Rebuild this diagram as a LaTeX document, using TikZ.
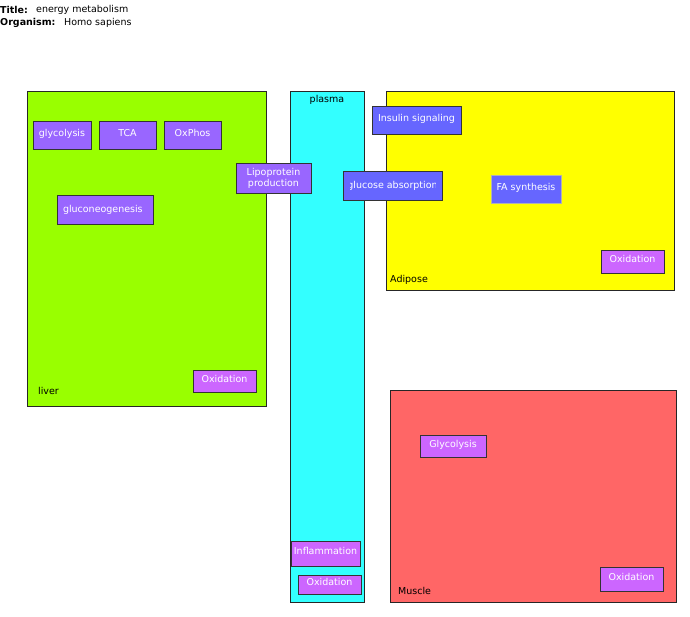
\documentclass[tikz,border=0pt]{standalone}
\usepackage{fontspec}
\setmainfont{DejaVu Sans}
\usepackage{xcolor}
\usetikzlibrary{positioning}
\definecolor{liverfill}{HTML}{99FF00}
\definecolor{plasmafill}{HTML}{33FFFF}
\definecolor{adiposefill}{HTML}{FFFF00}
\definecolor{musclefill}{HTML}{FF6666}
\definecolor{procviolet}{HTML}{9966FF}
\definecolor{procblue}{HTML}{6666FF}
\definecolor{procpink}{HTML}{CC66FF}
\tikzset{
    comp/.style={draw=black!85, line width=0.9pt, anchor=north west, inner sep=0pt, outer sep=0pt},
    proc/.style={draw=black!80, line width=0.9pt, anchor=north west, inner sep=0pt, outer sep=0pt, text=white, align=center, text height=7pt, text depth=5pt},
    cliptext/.style={draw=none, fill=none, text=white, inner sep=0pt, minimum width=0pt, minimum height=0pt, anchor=center, text height=, text depth=},
    lbl/.style={inner sep=0pt, anchor=west}
}

\begin{document}
\begin{tikzpicture}[x=1pt, y=-1pt, font=\fontsize{9.5}{11}\selectfont]
    \useasboundingbox (0,0) rectangle (690,616);
    % header
    \node (tkey) [lbl, font=\fontsize{9.5}{11}\selectfont\bfseries] at (0,10) {Title:};
    \node (tval) [lbl] at (36,10) {energy metabolism};
    \node (okey) [lbl, font=\fontsize{9.5}{11}\selectfont\bfseries] at (0,23) {Organism:};
    \node (oval) [lbl] at (64,23) {Homo sapiens};
    % compartments
    \node (liver) [comp, fill=liverfill, minimum width=239, minimum height=315] at (27,91) {};
    \node (plasma) [comp, fill=plasmafill, minimum width=74, minimum height=511] at (290,91) {};
    \node (adipose) [comp, fill=adiposefill, minimum width=288, minimum height=199] at (386,91) {};
    \node (muscle) [comp, fill=musclefill, minimum width=286, minimum height=212] at (390,390) {};
    \node [lbl] at (38,391) {liver};
    \node [inner sep=0pt] at (327,100) {plasma};
    \node [lbl] at (390,280) {Adipose};
    \node [lbl] at (398,591) {Muscle};
    % liver
    \node (glyc) [proc, fill=procviolet, minimum width=58, minimum height=28] at (33,121) {glycolysis};
    \node (tca) [proc, fill=procviolet, minimum width=57, minimum height=28] at (99,121) {TCA};
    \node (oxphos) [proc, fill=procviolet, minimum width=57, minimum height=28] at (164,121) {OxPhos};
    \node (gng) [proc, fill=procviolet, minimum width=96, minimum height=29,
        path picture={
            \clip (path picture bounding box.south west) rectangle ([xshift=-11pt]path picture bounding box.north east);
            \node [cliptext, anchor=west] at ([xshift=6pt]path picture bounding box.west) {gluconeogenesis};
        }] at (57,195) {};
    \node (lipo) [proc, text height=, text depth=, fill=procviolet, minimum width=75, minimum height=30] at (236,163) {Lipoprotein\\production};
    \node (livox) [proc, fill=procpink, minimum width=63, minimum height=22] at (193,370) {Oxidation};
    % adipose
    \node (insulin) [proc, fill=procblue, minimum width=89, minimum height=28] at (372,106) {Insulin signaling};
    \node (glcabs) [proc, fill=procblue, minimum width=99, minimum height=29,
        path picture={
            \clip ([xshift=7pt]path picture bounding box.south west) rectangle ([xshift=-7pt]path picture bounding box.north east);
            \node [cliptext] at (path picture bounding box.center) {glucose absorption};
        }] at (343,171) {};
    \node (fasyn) [proc, draw=gray!60, fill=procblue, minimum width=70, minimum height=28] at (491,175) {FA synthesis};
    \node (adiox) [proc, fill=procpink, minimum width=63, minimum height=23] at (601,250) {Oxidation};
    % plasma
    \node (inflam) [proc, fill=procpink, minimum width=69, minimum height=25] at (291,541) {Inflammation};
    \node (plaox) [proc, fill=procpink, minimum width=63, minimum height=19] at (298,575) {Oxidation};
    % muscle
    \node (mglyc) [proc, fill=procpink, minimum width=66, minimum height=22] at (420,435) {Glycolysis};
    \node (musox) [proc, fill=procpink, minimum width=63, minimum height=24] at (600,567) {Oxidation};
\end{tikzpicture}
\end{document}
